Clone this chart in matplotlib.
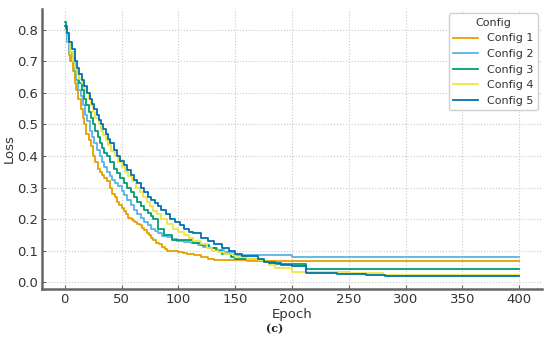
import matplotlib
matplotlib.use("Agg")
import matplotlib.pyplot as plt

# -------------------------------------------
# Data
# -------------------------------------------

labels = ["Config 1", "Config 2", "Config 3", "Config 4", "Config 5"]
colors = ["#E69F00", "#56B4E9", "#009E73", "#F0E442", "#0072B2"]

ep1 = [0, 2, 4, 5, 7, 9, 10, 12, 14, 16, 17, 19, 21, 23, 25, 27, 29, 31, 33, 35,
       37, 40, 42, 44, 46, 48, 50, 52, 54, 56, 58, 60, 62, 64, 66, 68, 70, 72, 74, 76,
       78, 80, 83, 86, 88, 90, 100, 104, 108, 114, 120, 126, 131, 160, 400]
loss1 = [0.80, 0.76, 0.72, 0.70, 0.67, 0.63, 0.61, 0.58, 0.55, 0.52, 0.50, 0.47, 0.45, 0.43, 0.40, 0.38, 0.36, 0.35, 0.34, 0.33,
         0.32, 0.30, 0.28, 0.27, 0.255, 0.245, 0.235, 0.225, 0.215, 0.205, 0.20, 0.195, 0.19, 0.185, 0.18, 0.172, 0.165, 0.155, 0.15, 0.14,
         0.135, 0.125, 0.12, 0.112, 0.105, 0.098, 0.095, 0.093, 0.09, 0.086, 0.08, 0.075, 0.07, 0.068, 0.066]

ep2 = [0, 2, 4, 6, 8, 10, 12, 14, 16, 18, 20, 22, 24, 26, 28, 31, 33, 35, 37, 40,
       42, 44, 47, 50, 52, 55, 58, 61, 64, 67, 70, 73, 76, 79, 82, 86, 90, 94, 99, 105,
       111, 117, 122, 128, 134, 140, 145, 149, 200, 400]
loss2 = [0.80, 0.76, 0.73, 0.70, 0.67, 0.64, 0.61, 0.59, 0.56, 0.53, 0.51, 0.48, 0.46, 0.44, 0.42, 0.40, 0.38, 0.365, 0.35, 0.335,
         0.325, 0.315, 0.305, 0.29, 0.275, 0.26, 0.245, 0.23, 0.215, 0.205, 0.19, 0.18, 0.17, 0.162, 0.155, 0.148, 0.142, 0.136, 0.13, 0.127,
         0.123, 0.118, 0.113, 0.108, 0.103, 0.097, 0.092, 0.086, 0.08, 0.08]

ep3 = [0, 1, 3, 5, 7, 9, 11, 13, 15, 17, 19, 21, 23, 25, 27, 29, 31, 33, 35, 37,
       40, 43, 46, 49, 52, 55, 58, 61, 64, 67, 70, 73, 76, 78, 82, 87, 94, 113, 120, 127,
       133, 138, 146, 150, 170, 175, 185, 212, 400]
loss3 = [0.825, 0.79, 0.76, 0.73, 0.71, 0.68, 0.66, 0.63, 0.61, 0.58, 0.56, 0.54, 0.52, 0.50, 0.48, 0.46, 0.44, 0.425, 0.41, 0.40,
         0.38, 0.36, 0.345, 0.33, 0.315, 0.30, 0.285, 0.27, 0.255, 0.24, 0.23, 0.22, 0.21, 0.20, 0.17, 0.15, 0.133, 0.125, 0.118, 0.108,
         0.098, 0.09, 0.08, 0.075, 0.07, 0.065, 0.058, 0.043, 0.043]

ep4 = [0, 1, 3, 5, 7, 9, 11, 13, 15, 17, 19, 21, 23, 25, 27, 30, 32, 34, 36, 38,
       41, 44, 47, 50, 53, 56, 59, 63, 66, 69, 72, 75, 78, 81, 85, 90, 95, 100, 105, 109,
       113, 120, 125, 130, 135, 140, 150, 160, 170, 175, 180, 185, 200, 250, 280, 400]
loss4 = [0.80, 0.79, 0.76, 0.73, 0.70, 0.68, 0.66, 0.645, 0.63, 0.615, 0.60, 0.58, 0.56, 0.54, 0.52, 0.50, 0.48, 0.465, 0.45, 0.435,
         0.415, 0.40, 0.38, 0.365, 0.35, 0.335, 0.32, 0.30, 0.285, 0.27, 0.255, 0.24, 0.225, 0.215, 0.20, 0.185, 0.17, 0.16, 0.15, 0.14,
         0.13, 0.12, 0.11, 0.10, 0.095, 0.09, 0.08, 0.075, 0.07, 0.065, 0.055, 0.045, 0.032, 0.028, 0.022, 0.022]

ep5 = [0, 2, 4, 6, 9, 11, 13, 15, 17, 20, 22, 24, 26, 28, 30, 32, 34, 36, 38, 40,
       43, 46, 49, 52, 55, 58, 61, 64, 67, 70, 73, 76, 79, 82, 85, 89, 93, 97, 101, 105,
       109, 113, 120, 126, 131, 138, 145, 150, 156, 170, 175, 180, 190, 200, 212, 240, 265, 282, 400]
loss5 = [0.81, 0.79, 0.76, 0.74, 0.70, 0.68, 0.66, 0.64, 0.62, 0.60, 0.58, 0.565, 0.55, 0.53, 0.515, 0.50, 0.485, 0.47, 0.455, 0.44,
         0.42, 0.40, 0.385, 0.37, 0.355, 0.34, 0.325, 0.315, 0.30, 0.285, 0.27, 0.26, 0.25, 0.24, 0.23, 0.215, 0.20, 0.19, 0.18, 0.17,
         0.16, 0.155, 0.14, 0.13, 0.12, 0.11, 0.10, 0.088, 0.083, 0.075, 0.065, 0.06, 0.055, 0.052, 0.029, 0.026, 0.022, 0.019, 0.019]

epochs = [ep1, ep2, ep3, ep4, ep5]
losses = [loss1, loss2, loss3, loss4, loss5]

# -------------------------------------------
# Plot
# -------------------------------------------

TEXT = "#333333"
SPINE = "#666666"

fig = plt.figure(figsize=(5.5, 3.51), dpi=100)
ax = fig.add_axes([42 / 550, 1 - 289 / 351, 500 / 550, 280 / 351])

for ep, ls, c, lab in zip(epochs, losses, colors, labels):
    ax.step(ep, ls, where="post", color=c, linewidth=1.3, label=lab)

ax.set_xticks([0, 50, 100, 150, 200, 250, 300, 350, 400])
ax.set_yticks([0.0, 0.1, 0.2, 0.3, 0.4, 0.5, 0.6, 0.7, 0.8])

ax.grid(True, linestyle=":", color="#c8c8c8", linewidth=0.8)
ax.set_axisbelow(True)

for side in ["top", "right"]:
    ax.spines[side].set_visible(False)
for side in ["left", "bottom"]:
    ax.spines[side].set_color(SPINE)
    ax.spines[side].set_linewidth(1.8)

ax.tick_params(direction="in", length=3, pad=3, color=SPINE, labelsize=9.5, labelcolor=TEXT)
ax.set_xlabel("Epoch", fontsize=9.5, color=TEXT, labelpad=1)
ax.set_ylabel("Loss", fontsize=9.5, color=TEXT, labelpad=1)

leg = ax.legend(title="Config", loc="upper right", fontsize=8, title_fontsize=8,
                framealpha=1, edgecolor="#d0d0d0", labelcolor=TEXT,
                handlelength=2.2, borderaxespad=0.4)
leg.get_title().set_color(TEXT)

fig.text(0.5, 1 - 329 / 351, "(c)", ha="center", va="center",
         family="serif", fontsize=8, fontweight="bold", color="#222222")

fig.savefig("out.png", dpi=100)
